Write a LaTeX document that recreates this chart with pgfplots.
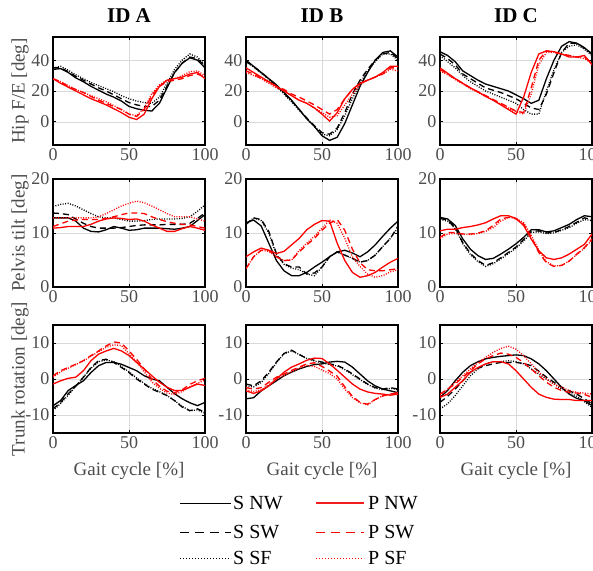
\documentclass[border=0pt]{standalone}
\usepackage{fontspec}
\setmainfont{Liberation Serif}
\usepackage{pgfplots}
\usepackage{pgfplotstable}
\pgfplotsset{compat=1.18}

\pgfplotstableread{
x snw ssw ssf pnw psw psf
0 34 35 35 28 28 28
5 34.5 35 36 25 26 26
10 32 32.5 33.5 22.5 23 23.5
15 28.5 29.5 30.5 20 21 21
20 26 27 28 17.5 19 19
25 23 24.5 25.5 15 16.5 17
30 20.5 22 23.5 13 14 15
35 18 20 21.5 11 12 13
40 16 17.5 19.5 8.5 10 10.5
45 13.5 15 17 6 8 8
50 10 12.5 15 3 5 5
55 8.5 11 13.5 1.5 3.5 4
60 7.5 10 12.5 5 8 9
65 7 10 12 15 17 18
70 12 14 16 23 23 24
75 22 23 25 27 26 27
80 32 32 34 28 27 28
85 38 38 40 29 28 30
90 41.5 42 44 31 30 32.5
95 40 41 42 32 31 33
100 35 36 37 28 29 30
}\hipA
\pgfplotstableread{
x snw ssw ssf pnw psw psf
0 40 39 39 35 33 32
5 36 36 35.5 32 31 30
10 32 32 31.5 29 28 28
15 28 28 27.5 26 26 25
20 24 23.5 23 23 23 22
25 19 18.5 18 20 21 20
30 14 13.5 13 17 18 17
35 8 8 7.5 14 16 14
40 2 2.5 2 12 13.5 12
45 -3 -2.5 -3 9 11 9
50 -9 -7 -8 5 8 6
55 -12 -8 -9 0.5 5 3
60 -10 -4 -5 6 8 4
65 -1 6 4 15 15 11
70 11 18 15 21 21 18
75 23 27 25 25 25 24
80 32 34 33 27 27 27
85 40 40 39 29 29 29
90 45 44 44 32 31 31
95 46 45 44 36 35 34
100 42 41 40 36 35 33
}\hipB
\pgfplotstableread{
x snw ssw ssf pnw psw psf
0 45.5 44 43 35 34 33
5 43 41 39 31.5 31 30.5
10 39 37 35 28 28 27.5
15 33 31 30 25 25 24.5
20 30 28 26 22 22 21.5
25 27 25 23 19.5 19.5 19
30 24.5 22 20 16.5 17 16.5
35 23 20.5 18 14 14.5 14
40 21.5 19 16 11 12 11.5
45 20 17 14 8 9.5 9
50 17.5 15 12 5 7 6.5
55 15 12 8 16 6 5
60 12 9 5 32 22 18
65 14 8 5 44 40 37
70 28 18 20 46 46 45
75 40 32 34 45.5 45 45
80 49 45 45 44 44 44
85 52 51 49 42 43 43
90 51 51 50 42 42 42
95 48 48 47 43 42 41
100 44 44 43 37 38 38
}\hipC
\pgfplotstableread{
x snw ssw ssf pnw psw psf
0 12.8 13.7 14.9 10.9 11.2 12.8
5 12.8 13.6 15.3 11 11.7 12.8
10 12.8 13.4 15.5 11.2 12.2 12.8
15 12.2 12.6 15 11.2 12.4 12.8
20 10.9 11.8 14.3 11.2 12.5 12.8
25 10.3 11.2 13.6 11.6 12.5 12.8
30 10.2 10.9 13 12.2 12.5 13
35 10.6 10.9 12.8 12.6 12.7 13.6
40 11.2 10.9 12.8 12.8 13 14.3
45 10.9 11 12.5 12.7 13.4 15
50 10.5 11.2 12.2 12.5 13.7 15.5
55 10.6 11.4 12.2 12.6 13.7 15.9
60 10.9 11.5 12.3 12.2 13.6 15.6
65 10.9 11.5 12.5 11.5 13 15
70 10.9 11.5 12.6 10.9 12.5 14.3
75 10.8 11.6 12.6 10.3 12.1 13.6
80 10.7 11.6 12.6 10.3 11.8 13
85 10.9 11.6 12.7 10.8 11.6 13
90 11.2 11.8 13 11.2 11.5 13
95 12.3 12.7 14 10.9 11.2 12.6
100 13.4 13.7 15.2 10.5 10.9 12.2
}\pelA
\pgfplotstableread{
x snw ssw ssf pnw psw psf
0 11.9 11.6 11.6 5.6 3.4 3.4
5 12.4 12.8 12.8 6.5 5.6 5.6
10 11.3 12.5 12.3 7.2 6.8 6.8
15 8.1 10.3 10 6.8 6.8 6.6
20 4.9 6.2 6 6.2 5.6 5.6
25 3 4.3 4.2 6.6 4.9 4.9
30 2.1 3.7 3.5 7.8 5 5
35 2.1 3.7 3.2 9 6.5 6.8
40 2.7 2.4 2.4 10.6 7.8 8.1
45 3.7 2.6 2.1 11.6 9 9.4
50 4.6 3.7 3.7 12.3 10.5 10.9
55 5.6 5.6 5.6 12.2 11.8 12.4
60 6.5 6.5 6.5 8.1 12.5 11.8
65 6.8 5.9 5.9 4.9 10.5 9
70 6.3 5.3 5.3 2.7 7 5.6
75 5.6 4.6 4.6 1.8 4.5 3.8
80 6.5 4.9 4.9 2.1 3.2 2.4
85 7.8 5.9 5.9 2.7 3 1.8
90 9.4 7.5 7.5 3.7 3 2.1
95 10.9 9 9 4.6 3.2 2.8
100 12.2 11.3 11 5.3 3.4 3.2
}\pelB
\pgfplotstableread{
x snw ssw ssf pnw psw psf
0 12.9 12.7 12.5 10.4 9.2 9
5 12.6 12.4 12.2 10.7 10.1 9.8
10 11.4 11 10.8 10.7 10.1 9.9
15 8.9 8.2 8 11 9.8 9.8
20 7 6.2 6 11.2 9.8 9.7
25 5.8 4.9 4.7 11.5 10 9.9
30 5.1 4 3.8 11.9 10.4 10.3
35 5.3 4.5 4.3 12.6 11.4 11
40 6.1 5.4 5.2 13.2 12.6 12.2
45 7 6.4 6.2 13.2 12.9 12.9
50 8 7.4 7.2 12.7 12.6 12.7
55 9.2 8.8 8.5 11.4 11.7 11.9
60 10.6 10.3 10.1 8.9 9.2 9.6
65 10.6 10.4 10.2 6.7 6.4 6.8
70 10.2 10 9.9 5.4 4.5 4.7
75 10.4 10.1 10 5.1 3.8 3.9
80 11 10.6 10.5 5.4 4 4
85 11.6 11.2 11 6.1 4.8 4.8
90 12.5 12 11.8 7 6.1 6
95 13.2 12.8 12.5 7.9 7.3 7.2
100 13 12.5 12.3 9.8 8.9 8.7
}\pelC
\pgfplotstableread{
x snw ssw ssf pnw psw psf
0 -7.4 -8.3 -8.8 -1.4 0.9 0.5
5 -6 -6.5 -6.8 -0.5 2.3 2
10 -3.2 -4.1 -4.5 0.2 3.2 3
15 -1.8 -2 -2 0.5 4.1 4
20 -0.5 0.5 0.5 2.3 5.1 5
25 1.8 3.2 3 5.1 6.5 6.3
30 3.7 5.1 4.8 6.9 7.8 7.6
35 4.6 5.5 5.3 7.8 9.2 8.8
40 4.6 4.6 4.8 8.5 10.3 9.5
45 4.1 3.2 3.5 7.8 10 9.3
50 3.2 1.8 2 6.5 7.8 7
55 2.3 0 0.3 4.6 5.5 4.8
60 0.9 -1.4 -1.2 2.8 2.8 2
65 0 -2.8 -2.6 0.9 0 -0.8
70 -0.5 -3.7 -3.5 -0.9 -2 -2.6
75 -2.3 -4.6 -4.6 -2.3 -3.4 -3.9
80 -4.1 -6 -6 -3.2 -3.8 -4.3
85 -5.5 -7.8 -7.6 -3.2 -3 -3.5
90 -6.6 -8.8 -8.8 -2.3 -1.5 -2.2
95 -7.4 -8.3 -8.6 -1.4 -0.5 -1.2
100 -6.5 -9.2 -9.5 -1.8 0.2 -0.3
}\trkA
\pgfplotstableread{
x snw ssw ssf pnw psw psf
0 -5.5 -1.4 -2 -3.3 -2.4 -3
5 -5.2 -1.9 -2.2 -4 -2.8 -3.5
10 -3.3 -0.5 -1 -3.3 -2.4 -3
15 -1.9 1.9 1.5 -1.9 -0.9 -1.5
20 -0.5 4.7 4.5 0 0.5 0
25 0.9 7.1 7 1.9 1.4 1
30 1.9 8 7.8 3.3 2.4 2
35 2.8 6.8 6.8 4.2 3.3 3
40 3.5 5.7 5.7 5.2 4.2 3.8
45 4 5.2 5 5.8 4.5 3.5
50 4.2 4.7 4.5 5.7 3.5 2.5
55 4.7 4.2 4 4.2 2.2 1.5
60 4.9 3.8 3.6 2.4 0.8 0
65 4.7 2.8 2.6 0.5 -2.2 -2.8
70 3.3 1.4 1.2 -1.4 -4.8 -5.2
75 1.4 0 -0.2 -2.8 -6.5 -6.6
80 -0.5 -1.4 -1.5 -3.6 -7 -7.2
85 -1.9 -2.4 -2.5 -4 -5.7 -5.7
90 -2.8 -2.8 -3 -4.2 -4.7 -4.7
95 -3.3 -2.4 -2.6 -4.5 -4.2 -4.2
100 -3.8 -2.8 -3 -4.2 -3.8 -3.8
}\trkB
\pgfplotstableread{
x snw ssw ssf pnw psw psf
0 -5.1 -6.5 -8.3 -5.1 -4.2 -4.6
5 -3.2 -4.8 -6.9 -4.2 -2.8 -2.8
10 -0.5 -2.8 -4.6 -2.3 -1.4 -0.9
15 1.9 -0.5 -1.9 -0.5 0.5 0.9
20 3.7 1.9 0.9 1.9 2.3 2.8
25 4.8 3 2.8 3.2 4.2 4.6
30 5.6 3.7 4.2 4.2 5.6 6
35 6 4.2 4.8 4.8 6.5 7.4
40 6.3 4.6 4.8 4.8 7.2 8.5
45 6.5 4.6 5.1 4.2 6.9 9.1
50 6.7 4.6 4.8 2.3 6 8.3
55 6.5 4.3 4.2 0 4.6 6.5
60 5.6 3.7 2.8 -2.3 2.8 4.2
65 4.2 2.2 1.4 -4.2 0.9 1.9
70 2.3 0.5 0 -5.1 -0.9 0
75 0 -0.9 -1.4 -5.6 -2.3 -1.4
80 -2.3 -2.3 -2.8 -5.7 -3.2 -2.3
85 -4.2 -3.3 -3.8 -5.7 -3.7 -3.2
90 -5.4 -4.2 -4.8 -6 -3.9 -3.7
95 -6 -5.5 -6.3 -6 -4.3 -3.9
100 -7.4 -6.9 -7.9 -6 -5.1 -4.2
}\trkC

\definecolor{legred}{RGB}{240,30,30}
\tikzset{
  snw/.style={black, line width=1.3pt},
  ssw/.style={black, line width=1.3pt, dash pattern=on 6pt off 4pt},
  ssf/.style={black, line width=1.3pt, dash pattern=on 1pt off 1.5pt},
  pnw/.style={red, line width=1.3pt},
  psw/.style={red, line width=1.3pt, dash pattern=on 6pt off 4pt},
  psf/.style={red, line width=1.3pt, dash pattern=on 1pt off 1.5pt},
  lgB/.style={line width=1pt, dash pattern=on 9pt off 6pt},
  lgC/.style={line width=1pt, dash pattern=on 1pt off 2pt},
  lgT/.style={anchor=base west, inner sep=0pt, font=\fontsize{20}{20}\selectfont},
}
\pgfplotsset{
  base/.style={
    scale only axis, width=152pt, height=108pt, anchor=north west,
    xmin=0, xmax=100, xtick={0,50,100},
    grid=major, major grid style={black!15, line width=0.6pt},
    axis line style={line width=1.4pt},
    major tick length=3pt, tick style={line width=0.8pt, black},
    tick align=inside,
    ticklabel style={font=\fontsize{18}{18}\selectfont, text=black!70},
    /pgf/number format/assume math mode=true,
  },
}
\newcommand{\panel}[6]{%
  \begin{axis}[base, at={(#2,#3)}, ymin=#4, ymax=#5, ytick={#6}]
    \addplot[snw] table[x=x, y=snw] {#1};
    \addplot[ssw] table[x=x, y=ssw] {#1};
    \addplot[ssf] table[x=x, y=ssf] {#1};
    \addplot[pnw] table[x=x, y=pnw] {#1};
    \addplot[psw] table[x=x, y=psw] {#1};
    \addplot[psf] table[x=x, y=psf] {#1};
  \end{axis}}

\begin{document}
\begin{tikzpicture}
\useasboundingbox (0,0) rectangle (593pt,570pt);
% legend lines first
\fill[legred] (316pt,66.4pt) rectangle (364pt,67.6pt);
\draw[red, lgB] (316pt,38pt) -- (364pt,38pt);
\draw[red, lgC] (316pt,12pt) -- (364pt,12pt);
\fill[black] (180pt,66.5pt) rectangle (231pt,67.5pt);
\draw[black, lgB] (180pt,38pt) -- (231pt,38pt);
\draw[black, lgC] (180pt,12pt) -- (231pt,12pt);

\panel{\hipA}{53pt}{533pt}{-15}{55}{0,20,40}
\panel{\hipB}{246pt}{533pt}{-15}{55}{0,20,40}
\panel{\hipC}{440pt}{533pt}{-15}{55}{0,20,40}
\panel{\pelA}{53pt}{391pt}{0}{20}{0,10,20}
\panel{\pelB}{246pt}{391pt}{0}{20}{0,10,20}
\panel{\pelC}{440pt}{391pt}{0}{20}{0,10,20}
\panel{\trkA}{53pt}{245pt}{-15}{15}{-10,0,10}
\panel{\trkB}{246pt}{245pt}{-15}{15}{-10,0,10}
\panel{\trkC}{440pt}{245pt}{-15}{15}{-10,0,10}

\node[lgT] at (233pt,60.5pt) {S NW};
\node[lgT] at (368pt,60.5pt) {P NW};
\node[lgT] at (233pt,31.5pt) {S SW};
\node[lgT] at (368pt,31.5pt) {P SW};
\node[lgT] at (233pt,5.5pt) {S SF};
\node[lgT] at (368pt,5.5pt) {P SF};

\foreach \cx/\t in {129/A, 322/B, 516/C}{
  \node[anchor=base, font=\fontsize{21}{21}\selectfont\bfseries] at (\cx pt, 547pt) {ID \t};
  \node[anchor=base, font=\fontsize{19}{19}\selectfont, text=black!70] at (\cx pt, 95pt) {Gait cycle [\%]};
}
\node[rotate=90, font=\fontsize{19}{19}\selectfont, text=black!70] at (20pt, 479pt) {Hip F/E [deg]};
\node[rotate=90, font=\fontsize{19}{19}\selectfont, text=black!70] at (20pt, 337pt) {Pelvis tilt [deg]};
\node[rotate=90, font=\fontsize{19}{19}\selectfont, text=black!70] at (20pt, 191pt) {Trunk rotation [deg]};
\end{tikzpicture}
\end{document}
